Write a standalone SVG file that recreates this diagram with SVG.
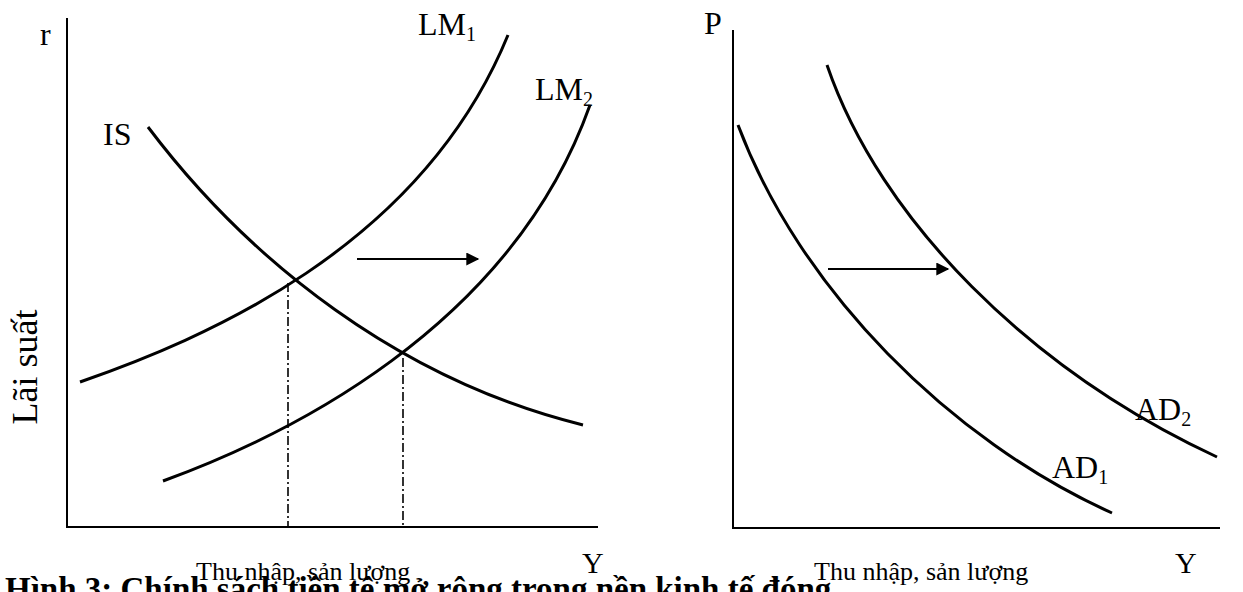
<svg xmlns="http://www.w3.org/2000/svg" width="1243" height="592" viewBox="0 0 1243 592">
  <style>
    .axis { stroke: #000; stroke-width: 2; fill: none; }
    .curve { stroke: #000; stroke-width: 3; fill: none; }
    .guide { stroke: #000; stroke-width: 1.6; fill: none; stroke-dasharray: 9 3 2 3; }
    .arrow { stroke: #000; stroke-width: 2; fill: none; }
    .lbl { font-family: "Liberation Serif", "Times New Roman", serif; font-size: 32px; fill: #000; }
    .sub { font-size: 20px; }
    .ax { font-family: "Liberation Serif", "Times New Roman", serif; font-size: 26px; fill: #000; }
    .cap { font-family: "Liberation Serif", "Times New Roman", serif; font-size: 33px; font-weight: bold; fill: #000; }
  </style>
  <defs>
    <marker id="ah" viewBox="0 0 10 10" refX="9" refY="5" markerWidth="8" markerHeight="6.5" markerUnits="strokeWidth" orient="auto">
      <path d="M0,0 L10,5 L0,10 Z" fill="#000"/>
    </marker>
  </defs>
  <rect width="1243" height="592" fill="#fff"/>

  <g id="left-axes">
    <line class="axis" x1="67" y1="18" x2="67" y2="528"/>
    <line class="axis" x1="66" y1="527" x2="598" y2="527"/>
    <text class="lbl" x="40" y="45">r</text>
    <text class="lbl" transform="translate(37,367) rotate(-90)" text-anchor="middle" style="font-size:36px">Lãi suất</text>
    <text class="ax" x="196" y="580">Thu nhập, sản lượng</text>
    <text class="lbl" x="582" y="573" style="font-size:30px">Y</text>
  </g>

  <g id="IS">
    <path class="curve" d="M148,127 C250,262 400,380 583,425"/>
    <text class="lbl" x="103" y="145">IS</text>
  </g>
  <g id="LM1">
    <path class="curve" d="M80,382 C200,340 420,250 508,35"/>
    <text class="lbl" x="418" y="35">LM<tspan class="sub" dy="6">1</tspan></text>
  </g>
  <g id="LM2">
    <path class="curve" d="M163,481 C283,437 510,330 590,105"/>
    <text class="lbl" x="535" y="100">LM<tspan class="sub" dy="6">2</tspan></text>
  </g>

  <g id="right-axes">
    <line class="axis" x1="733" y1="30" x2="733" y2="529"/>
    <line class="axis" x1="732" y1="528" x2="1220" y2="528"/>
    <text class="lbl" x="704" y="34">P</text>
    <text class="ax" x="814" y="580">Thu nhập, sản lượng</text>
    <text class="lbl" x="1175" y="573" style="font-size:30px">Y</text>
  </g>

  <g id="AD1">
    <path class="curve" d="M738,125 C800,290 950,440 1112,513"/>
    <text class="lbl" x="1052" y="478">AD<tspan class="sub" dy="6">1</tspan></text>
  </g>
  <g id="AD2">
    <path class="curve" d="M827,65 C880,220 1030,370 1217,457"/>
    <text class="lbl" x="1135" y="420">AD<tspan class="sub" dy="6">2</tspan></text>
  </g>

  <g id="connectors">
    <line class="guide" x1="288" y1="283" x2="288" y2="526"/>
    <line class="guide" x1="403" y1="358" x2="403" y2="526"/>
    <line class="arrow" x1="357" y1="259" x2="478" y2="259" marker-end="url(#ah)"/>
    <line class="arrow" x1="828" y1="269" x2="948" y2="269" marker-end="url(#ah)"/>
  </g>

  <g id="caption">
    <text class="cap" x="5" y="600">Hình 3: Chính sách tiền tệ mở rộng trong nền kinh tế đóng</text>
  </g>
</svg>
